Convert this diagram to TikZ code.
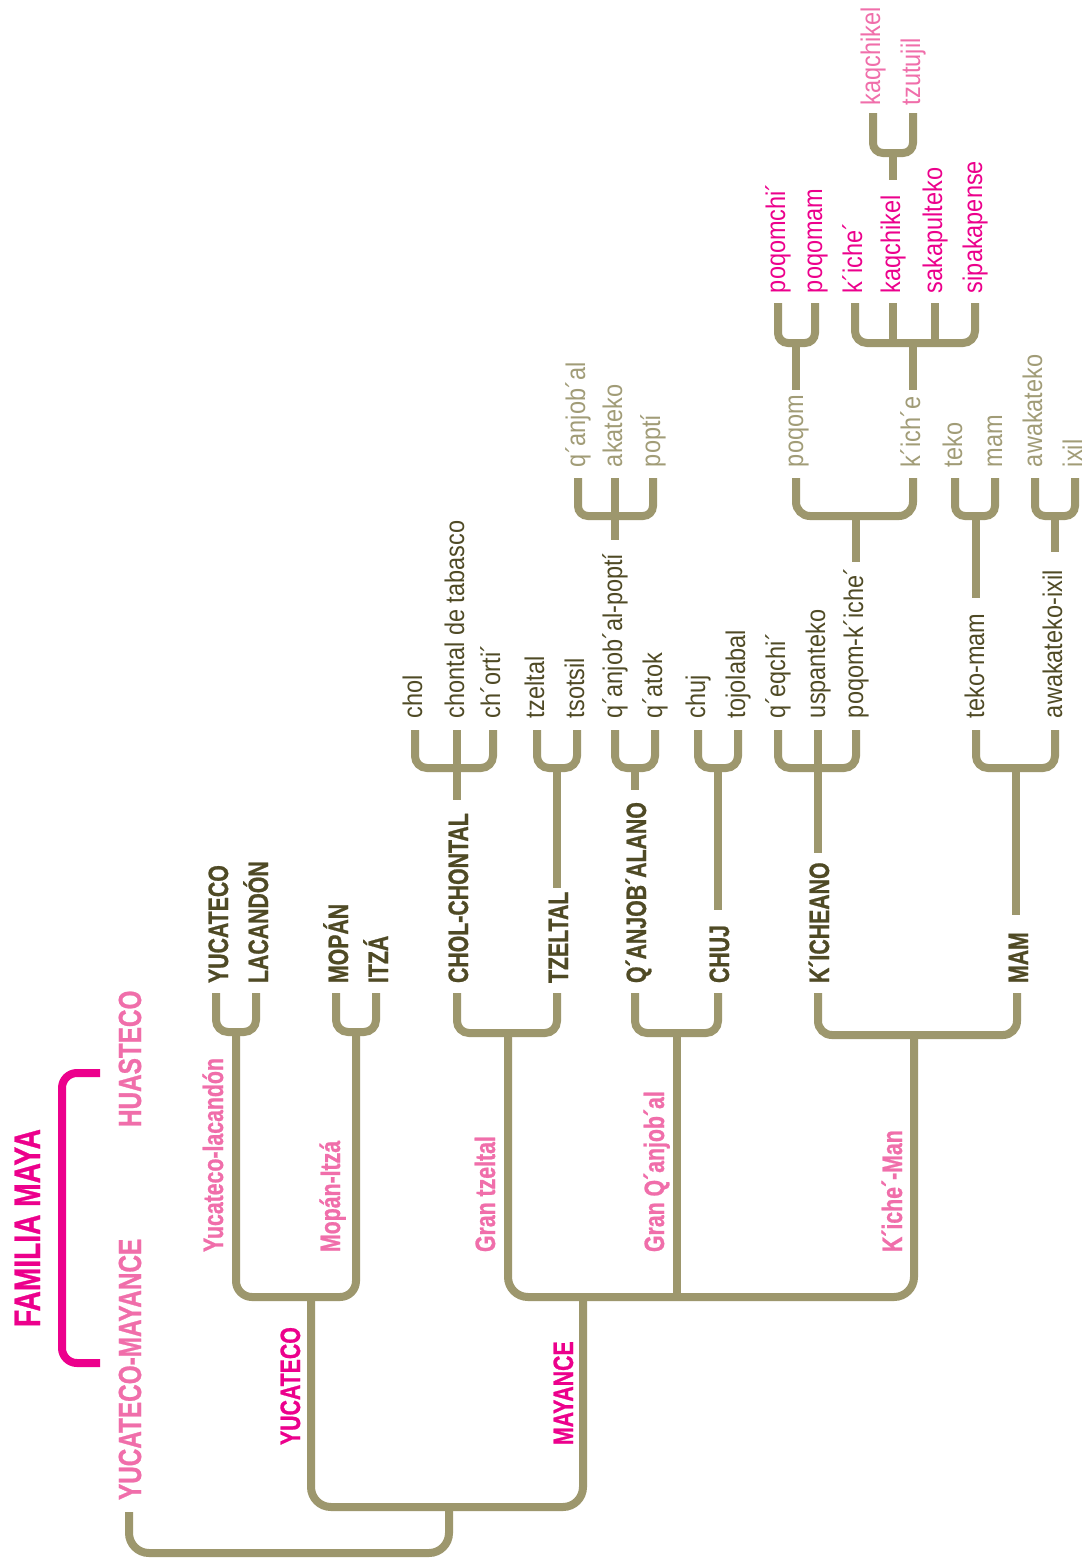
\documentclass[tikz,border=0pt]{standalone}
\usepackage{fontspec}
\setmainfont{Liberation Sans}
\newfontfamily\bcond[FakeStretch=0.76, BoldFeatures={FakeBold=0.8}]{Liberation Sans}
\newfontfamily\lcond[FakeStretch=0.87]{Liberation Sans}
\definecolor{treeol}{HTML}{9D976D}
\definecolor{darkol}{HTML}{4F4A25}
\definecolor{lightol}{HTML}{A19C77}
\definecolor{mag}{HTML}{EC008C}
\definecolor{lpink}{HTML}{F06EAA}
\tikzset{
  tree/.style={draw=treeol, line width=8pt, line cap=butt},
  magline/.style={draw=mag, line width=8pt, line cap=butt},
  lbl/.style={inner sep=0pt, outer sep=0pt, rotate=90, anchor=base west},
  boldlbl/.style={lbl, font=\bcond\bfseries\fontsize{28}{28}\selectfont},
  bigbold/.style={lbl, font=\bcond\bfseries\fontsize{32}{32}\selectfont},
  titlelbl/.style={lbl, font=\bcond\bfseries\fontsize{37}{37}\selectfont},
  leaf/.style={lbl, font=\lcond\fontsize{27}{27}\selectfont},
}
\begin{document}
\begin{tikzpicture}[x=1pt, y=-1pt]
\useasboundingbox (0,0) rectangle (1088,1564);
\fill[white] (0,0) rectangle (1088,1564);

% ---------- title bracket ----------
\draw[magline, rounded corners=15] (100,1073) -- (62,1073) -- (62,1363) -- (100,1363);
\node[titlelbl, text=mag] (tFam) at (40,1327) {FAMILIA MAYA};
\node[bigbold, text=lpink] (tYM) at (141,1500) {YUCATECO-MAYANCE};
\node[bigbold, text=lpink] (tHua) at (141,1127) {HUASTECO};

% ---------- lower tree ----------
\draw[tree, rounded corners=20] (129,1512) |- (449,1553) -- (449,1507);
\draw[tree, rounded corners=20] (311,1297) |- (583,1507) -- (583,1297);
\node[boldlbl, text=mag] (tYuc) at (300,1445) {YUCATECO};
\node[boldlbl, text=mag] (tMay) at (573,1445) {MAYANCE};

% Yucateco branch
\draw[tree, rounded corners=16] (236,1032) |- (356,1297) -- (356,1032);
\node[boldlbl, text=lpink] (tYL) at (223,1252) {Yucateco-lacandón};
\node[boldlbl, text=lpink] (tMI) at (340,1252) {Mopán-Itzá};
\draw[tree, rounded corners=12] (216,993) |- (256,1032) -- (256,993);
\draw[tree, rounded corners=12] (336,993) |- (376,1032) -- (376,993);
\node[boldlbl, text=darkol] (nYucateco) at (228,983) {YUCATECO};
\node[boldlbl, text=darkol] (nLacandon) at (268,983) {LACANDÓN};
\node[boldlbl, text=darkol] (nMopan) at (348,983) {MOPÁN};
\node[boldlbl, text=darkol] (nItza) at (388,983) {ITZÁ};

% Mayance branch
\draw[tree, rounded corners=20] (508,1033) |- (914,1297) -- (914,1035);
\draw[tree] (677,1033) -- (677,1297);
\node[boldlbl, text=lpink] (tGT) at (495,1252) {Gran tzeltal};
\node[boldlbl, text=lpink] (tGQ) at (664,1252) {Gran Q´anjob´al};
\node[boldlbl, text=lpink] (tKM) at (902,1252) {K´iche´-Man};

\draw[tree, rounded corners=12] (457,993) |- (557,1033) -- (557,993);
\draw[tree, rounded corners=12] (635,993) |- (718,1033) -- (718,993);
\draw[tree, rounded corners=14] (818,993) |- (1017,1035) -- (1017,993);

\node[boldlbl, text=darkol] (nCholC) at (468,983) {CHOL-CHONTAL};
\node[boldlbl, text=darkol] (nTzeltal) at (568,983) {TZELTAL};
\node[boldlbl, text=darkol] (nQanj) at (646,983) {Q´ANJOB´ALANO};
\node[boldlbl, text=darkol] (nChuj) at (729,983) {CHUJ};
\node[boldlbl, text=darkol] (nKich) at (829,983) {K´ICHEANO};
\node[boldlbl, text=darkol] (nMam) at (1028,983) {MAM};

% first-level forks
\draw[tree] (457,730) -- (457,800);
\draw[tree, rounded corners=12] (415,730) |- (493,768) -- (493,730);
\draw[tree] (557,768) -- (557,888);
\draw[tree, rounded corners=12] (537,730) |- (577,768) -- (577,730);
\draw[tree] (635,768) -- (635,790);
\draw[tree, rounded corners=12] (615,730) |- (655,768) -- (655,730);
\draw[tree] (718,768) -- (718,910);
\draw[tree, rounded corners=12] (698,730) |- (738,768) -- (738,730);
\draw[tree] (818,730) -- (818,853);
\draw[tree, rounded corners=12] (778,730) |- (856,768) -- (856,730);
\draw[tree] (1016,768) -- (1016,915);
\draw[tree, rounded corners=12] (976,730) |- (1055,768) -- (1055,730);

\node[leaf, text=darkol] (lChol) at (422,718) {chol};
\node[leaf, text=darkol] (lChontal) at (464,718) {chontal de tabasco};
\node[leaf, text=darkol] (lChorti) at (500,718) {ch´orti´};
\node[leaf, text=darkol] (lTzeltal) at (544,718) {tzeltal};
\node[leaf, text=darkol] (lTsotsil) at (584,718) {tsotsil};
\node[leaf, text=darkol] (lQanjP) at (622,718) {q´anjob´al-poptí};
\node[leaf, text=darkol] (lQatok) at (662,718) {q´atok};
\node[leaf, text=darkol] (lChuj) at (705,718) {chuj};
\node[leaf, text=darkol] (lTojo) at (745,718) {tojolabal};
\node[leaf, text=darkol] (lQeq) at (785,718) {q´eqchi´};
\node[leaf, text=darkol] (lUsp) at (825,718) {uspanteko};
\node[leaf, text=darkol] (lPoqK) at (863,718) {poqom-k´iche´};
\node[leaf, text=darkol] (lTekoM) at (984,718) {teko-mam};
\node[leaf, text=darkol] (lAwaI) at (1062,718) {awakateko-ixil};

% second-level forks
\draw[tree] (615,478) -- (615,540);
\draw[tree, rounded corners=10] (578,478) |- (653,516) -- (653,478);
\draw[tree] (856,516) -- (856,562);
\draw[tree, rounded corners=14] (796,478) |- (913,516) -- (913,478);
\draw[tree] (976,516) -- (976,598);
\draw[tree, rounded corners=10] (955,478) |- (995,516) -- (995,478);
\draw[tree] (1055,516) -- (1055,552);
\draw[tree, rounded corners=10] (1035,478) |- (1075,516) -- (1075,478);

\node[leaf, text=lightol] (lQanj) at (585,467) {q´anjob´al};
\node[leaf, text=lightol] (lAkat) at (622,467) {akateko};
\node[leaf, text=lightol] (lPopti) at (660,467) {poptí};
\node[leaf, text=lightol] (lPoqom) at (803,467) {poqom};
\node[leaf, text=lightol] (lKiche) at (920,467) {k´ich´e};
\node[leaf, text=lightol] (lTeko) at (962,467) {teko};
\node[leaf, text=lightol] (lMam) at (1002,467) {mam};
\node[leaf, text=lightol] (lAwak) at (1042,467) {awakateko};
\node[leaf, text=lightol] (lIxil) at (1082,467) {ixil};

% third-level forks
\draw[tree] (796,343) -- (796,390);
\draw[tree, rounded corners=10] (778,303) |- (815,343) -- (815,303);
\draw[tree] (913,343) -- (913,390);
\draw[tree, rounded corners=12] (855,303) |- (975,343) -- (975,303);
\draw[tree] (893,303) -- (893,343);
\draw[tree] (935,303) -- (935,343);

\node[leaf, text=mag] (lPoqchi) at (785,293) {poqomchi´};
\node[leaf, text=mag] (lPoqam) at (822,293) {poqomam};
\node[leaf, text=mag] (lKiche2) at (862,293) {k´iche´};
\node[leaf, text=mag] (lKaq) at (900,293) {kaqchikel};
\node[leaf, text=mag] (lSaka) at (942,293) {sakapulteko};
\node[leaf, text=mag] (lSipa) at (982,293) {sipakapense};

% fourth-level fork
\draw[tree] (893,153) -- (893,180);
\draw[tree, rounded corners=10] (873,113) |- (913,153) -- (913,113);
\node[leaf, text=lpink] (lKaq2) at (880,105) {kaqchikel};
\node[leaf, text=lpink] (lTzut) at (920,105) {tzutujil};
\end{tikzpicture}
\end{document}
